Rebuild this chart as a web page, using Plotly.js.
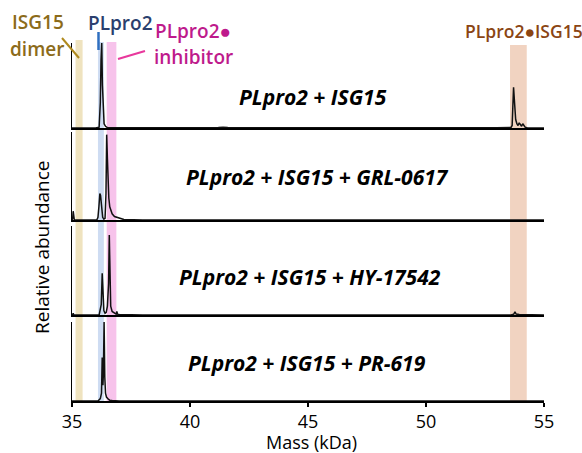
<!DOCTYPE html>
<html>
<head>
<meta charset="utf-8">
<script src="https://cdn.plot.ly/plotly-3.0.1.min.js"></script>
<style>html,body{margin:0;padding:0;background:#fff;}#chart{width:582px;height:453px;}</style>
</head>
<body>
<div id="chart"></div>
<script>
// ---- Data ----
const panelTitles = ["PLpro2 + ISG15", "PLpro2 + ISG15 + GRL-0617", "PLpro2 + ISG15 + HY-17542", "PLpro2 + ISG15 + PR-619"];

const massA = [35.0, 35.5, 36.0, 36.15, 36.2, 36.23, 36.26, 36.29, 36.32, 36.36, 36.42, 36.5, 37.0, 38.0, 40.0, 41.2, 41.4, 41.6, 42.5, 44.5, 45.5, 46.5, 47.5, 47.75, 48.0, 49.0, 51.0, 53.0, 53.6, 53.65, 53.68, 53.71, 53.74, 53.77, 53.8, 53.85, 53.9, 53.95, 54.0, 54.05, 54.1, 54.15, 54.2, 54.3, 55.0];
const intA  = [0.0, 0.0, 0.0, 0.01, 0.3, 0.8, 1.0, 0.5, 0.15, 0.05, 0.02, 0.005, 0.003, 0.002, 0.002, 0.006, 0.009, 0.005, 0.003, 0.004, 0.005, 0.004, 0.006, 0.01, 0.005, 0.004, 0.003, 0.003, 0.005, 0.03, 0.2, 0.48, 0.35, 0.18, 0.1, 0.05, 0.03, 0.06, 0.03, 0.02, 0.05, 0.02, 0.01, 0.0, 0.0];

const massB = [35.0, 35.03, 35.05, 35.07, 35.1, 36.05, 36.1, 36.14, 36.18, 36.21, 36.24, 36.27, 36.3, 36.35, 36.4, 36.44, 36.47, 36.5, 36.53, 36.56, 36.6, 36.65, 36.7, 36.8, 36.9, 37.0, 37.2, 38.0, 55.0];
const intB  = [0.0, 0.02, 0.1, 0.02, 0.0, 0.0, 0.03, 0.15, 0.3, 0.28, 0.2, 0.1, 0.03, 0.01, 0.02, 0.3, 0.97, 0.7, 0.4, 0.25, 0.15, 0.1, 0.07, 0.04, 0.03, 0.02, 0.005, 0.0, 0.0];

const massC = [35.0, 35.03, 35.05, 35.08, 36.15, 36.2, 36.24, 36.28, 36.31, 36.35, 36.4, 36.45, 36.5, 36.55, 36.58, 36.61, 36.64, 36.7, 36.8, 36.87, 36.9, 36.93, 37.0, 38.0, 53.6, 53.72, 53.77, 53.82, 53.95, 55.0];
const intC  = [0.0, 0.005, 0.02, 0.0, 0.0, 0.05, 0.12, 0.47, 0.15, 0.05, 0.02, 0.03, 0.1, 0.35, 0.9, 0.35, 0.1, 0.04, 0.02, 0.01, 0.04, 0.01, 0.005, 0.0, 0.0, 0.01, 0.035, 0.01, 0.005, 0.0];

const massD = [35.0, 36.1, 36.2, 36.25, 36.28, 36.31, 36.33, 36.36, 36.39, 36.42, 36.46, 36.5, 36.55, 36.6, 36.7, 37.0, 55.0];
const intD  = [0.0, 0.0, 0.03, 0.1, 0.55, 0.2, 0.35, 1.0, 0.3, 0.1, 0.05, 0.03, 0.02, 0.01, 0.005, 0.0, 0.0];

// Highlight bands (kDa)
const bandStart = [35.15, 36.1, 36.47, 53.56];
const bandEnd   = [35.45, 36.35, 36.88, 54.27];
const bandColor = ["rgba(233,218,170,0.75)", "rgba(190,208,238,0.75)", "rgba(245,180,230,0.8)", "rgba(236,196,172,0.75)"];

const tickVals = [35, 40, 45, 50, 55];

// ---- Layout helpers (pixel -> paper) ----
const L = 72, R = 38, T = 30, B = 52, W = 582, H = 453;
const pw = W - L - R, ph = H - T - B;
const px = x => (x - L) / pw;
const py = y => (H - B - y) / ph;

const domains = [[py(128), py(43)], [py(220), py(132)], [py(315), py(226)], [py(401), py(322)]];
const masses = [massA, massB, massC, massD];
const ints = [intA, intB, intC, intD];

const traces = masses.map((m, i) => ({
  x: m, y: ints[i], type: "scatter", mode: "lines",
  xaxis: i === 0 ? "x" : "x" + (i + 1),
  yaxis: i === 0 ? "y" : "y" + (i + 1),
  line: {color: "#111", width: 1.5},
  hoverinfo: "skip", showlegend: false
}));

const font = "'Open Sans', sans-serif";
const layout = {
  width: W, height: H,
  margin: {l: L, r: R, t: T, b: B},
  paper_bgcolor: "#fff", plot_bgcolor: "rgba(0,0,0,0)",
  showlegend: false,
  font: {family: font, color: "#000"},
  shapes: [], annotations: []
};

for (let i = 0; i < 4; i++) {
  const xs = i === 0 ? "" : String(i + 1);
  const xa = {
    range: [35, 55], anchor: "y" + xs, domain: [0, 1],
    showline: true, linecolor: "#000", linewidth: 1.5,
    showgrid: false, zeroline: false, fixedrange: true
  };
  if (i === 3) {
    Object.assign(xa, {
      tickvals: tickVals, ticks: "outside", ticklen: 4, tickwidth: 1.5, tickcolor: "#000",
      tickfont: {size: 18, family: font, color: "#000"}
    });
  } else {
    Object.assign(xa, {matches: "x4", showticklabels: false, ticks: ""});
  }
  layout["xaxis" + xs] = xa;
  layout["yaxis" + xs] = {
    domain: domains[i], anchor: "x" + xs, range: [0, 1.0],
    showline: true, linecolor: "#000", linewidth: 1.5,
    showgrid: false, zeroline: false, showticklabels: false, ticks: "", fixedrange: true
  };
}

// Bands
const bandTop = [40, 42, 42, 45];
for (let i = 0; i < bandStart.length; i++) {
  layout.shapes.push({type: "rect", xref: "x4", yref: "paper", x0: bandStart[i], x1: bandEnd[i],
    y0: 0, y1: py(bandTop[i]), fillcolor: bandColor[i], line: {width: 0}, layer: "below"});
}

// Pointer lines
layout.shapes.push({type: "line", xref: "paper", yref: "paper", x0: px(62), y0: py(38), x1: px(79), y1: py(58), line: {color: "#B08A1E", width: 2}});
layout.shapes.push({type: "line", xref: "paper", yref: "paper", x0: px(98.5), y0: py(32), x1: px(98.5), y1: py(50), line: {color: "#2F6FC0", width: 2.5}});
layout.shapes.push({type: "line", xref: "paper", yref: "paper", x0: px(118), y0: py(59), x1: px(145), y1: py(51), line: {color: "#E8389C", width: 2}});

// Panel titles
const titleY = [97, 177, 277, 363];
const titleX = [313, 317, 310, 307];
for (let i = 0; i < 4; i++) {
  layout.annotations.push({xref: "paper", yref: "paper", x: px(titleX[i]), y: py(titleY[i]),
    text: "<b><i>" + panelTitles[i] + "</i></b>", showarrow: false,
    xanchor: "center", yanchor: "middle", font: {size: 21, family: font, color: "#000"}});
}

// Labels
const lab = (text, x, y, color, size) => layout.annotations.push({xref: "paper", yref: "paper", x: px(x), y: py(y),
  text: text, showarrow: false, xanchor: "center", yanchor: "middle",
  font: {size: size || 19, family: font, color: color, weight: 600}});
lab("ISG15", 38, 22, "#8C6B1A");
lab("dimer", 37, 49, "#8C6B1A");
lab("PLpro2", 120, 23, "#2B3F6E");
lab("PLpro2●", 193, 31, "#BE1A8C");
lab("inhibitor", 193, 57, "#BE1A8C");
lab("PLpro2●ISG15", 524, 31, "#8B4513", 17.5);

// Axis titles
layout.annotations.push({xref: "paper", yref: "paper", x: px(311), y: py(442), text: "Mass (kDa)",
  showarrow: false, xanchor: "center", yanchor: "middle", font: {size: 18, family: font, color: "#000"}});
layout.annotations.push({xref: "paper", yref: "paper", x: px(42), y: py(247), text: "Relative abundance",
  textangle: -90, showarrow: false, xanchor: "center", yanchor: "middle", font: {size: 19, family: font, color: "#000"}});

Plotly.newPlot("chart", traces, layout, {staticPlot: true, displayModeBar: false});
</script>
</body>
</html>
